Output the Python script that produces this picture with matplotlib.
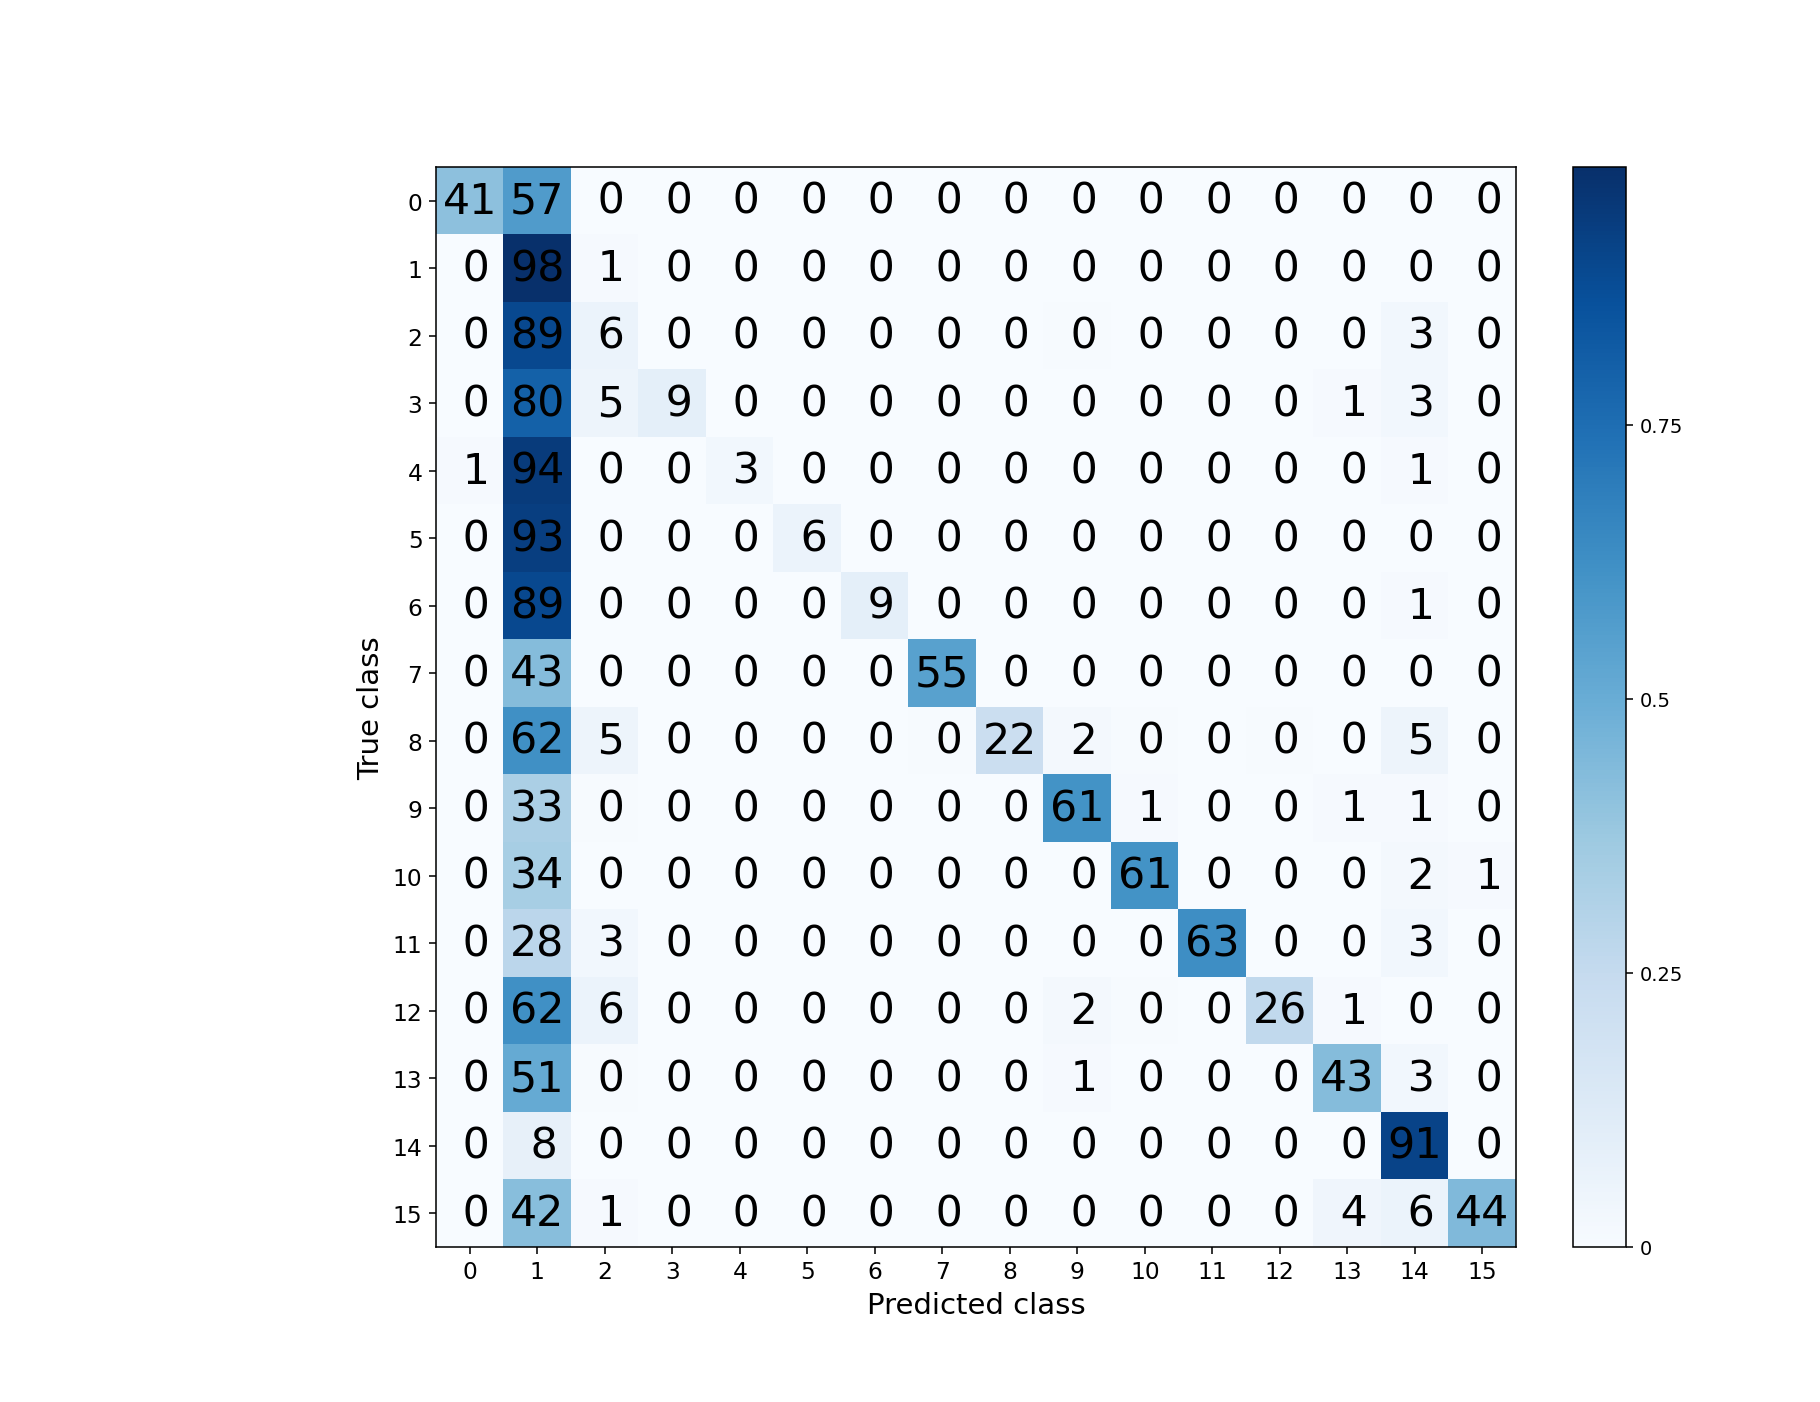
import matplotlib
matplotlib.use('Agg')
import matplotlib.pyplot as plt
import numpy as np

classes = [str(i) for i in range(16)]

# row-normalised confusion matrix, in percent (true class per row)
cm_pct = [
    [41, 57, 0, 0, 0, 0, 0, 0, 0, 0, 0, 0, 0, 0, 0, 0],
    [0, 98.5, 1, 0, 0, 0, 0, 0, 0, 0, 0, 0, 0, 0, 0, 0],
    [0, 89, 6, 0, 0, 0, 0, 0, 0, 0.4, 0, 0, 0, 0, 3, 0],
    [0, 80, 5, 9, 0, 0, 0, 0, 0, 0, 0, 0, 0, 1, 3, 0],
    [1, 94, 0, 0, 3, 0, 0, 0, 0, 0, 0, 0, 0, 0, 1, 0],
    [0, 93, 0, 0, 0, 6, 0, 0, 0, 0, 0, 0, 0, 0, 0, 0],
    [0, 89, 0, 0, 0, 0, 9, 0, 0, 0, 0, 0, 0, 0, 1, 0],
    [0, 43, 0, 0, 0, 0, 0, 55, 0, 0, 0, 0, 0, 0, 0, 0],
    [0, 62, 5, 0, 0, 0, 0, 0.4, 22, 2, 0.4, 0, 0.4, 0, 5, 0],
    [0, 33, 0.4, 0, 0, 0, 0, 0, 0, 61, 1, 0, 0, 1, 1, 0],
    [0, 34, 0, 0, 0, 0, 0, 0, 0, 0, 61, 0, 0, 0, 2, 1],
    [0, 28, 3, 0, 0, 0, 0, 0, 0, 0, 0, 63, 0, 0, 3, 0],
    [0, 62, 6, 0, 0, 0, 0, 0, 0, 2, 0.4, 0, 26, 1, 0, 0],
    [0, 51, 0.4, 0, 0, 0, 0, 0, 0, 1, 0, 0, 0, 43, 3, 0],
    [0, 8, 0, 0, 0, 0, 0, 0, 0, 0, 0, 0, 0, 0, 91, 0],
    [0, 42, 1, 0, 0, 0, 0, 0, 0, 0, 0, 0, 0, 4, 6, 44],
]

cm = np.array(cm_pct) / 100.0
n = len(classes)

f = plt.figure(figsize=(13, 10.02), dpi=140)
ax = f.add_axes([0.2396, 0.1105, 0.5934, 0.7697])
im = ax.imshow(cm, cmap='Blues', interpolation='nearest', vmin=0, vmax=cm.max(),
               aspect='auto')

for i in range(n):
    for j in range(n):
        ax.text(j, i, '{:2d}'.format(int(cm_pct[i][j])), ha='center', va='center',
                color='black', fontsize=22)

ax.set_xticks(np.arange(n))
ax.set_yticks(np.arange(n))
ax.set_xticklabels(classes, fontsize=12)
ax.set_yticklabels(classes, fontsize=12)
ax.set_xlabel('Predicted class', fontsize=15)
ax.set_ylabel('True class', fontsize=15)

cax = f.add_axes([0.8643, 0.1105, 0.0291, 0.7697])
cb = f.colorbar(im, cax=cax, ticks=[0, 0.25, 0.5, 0.75])
cb.ax.set_yticklabels(['0', '0.25', '0.5', '0.75'])
cb.ax.tick_params(labelsize=10)

f.savefig('out.png', dpi=140)
